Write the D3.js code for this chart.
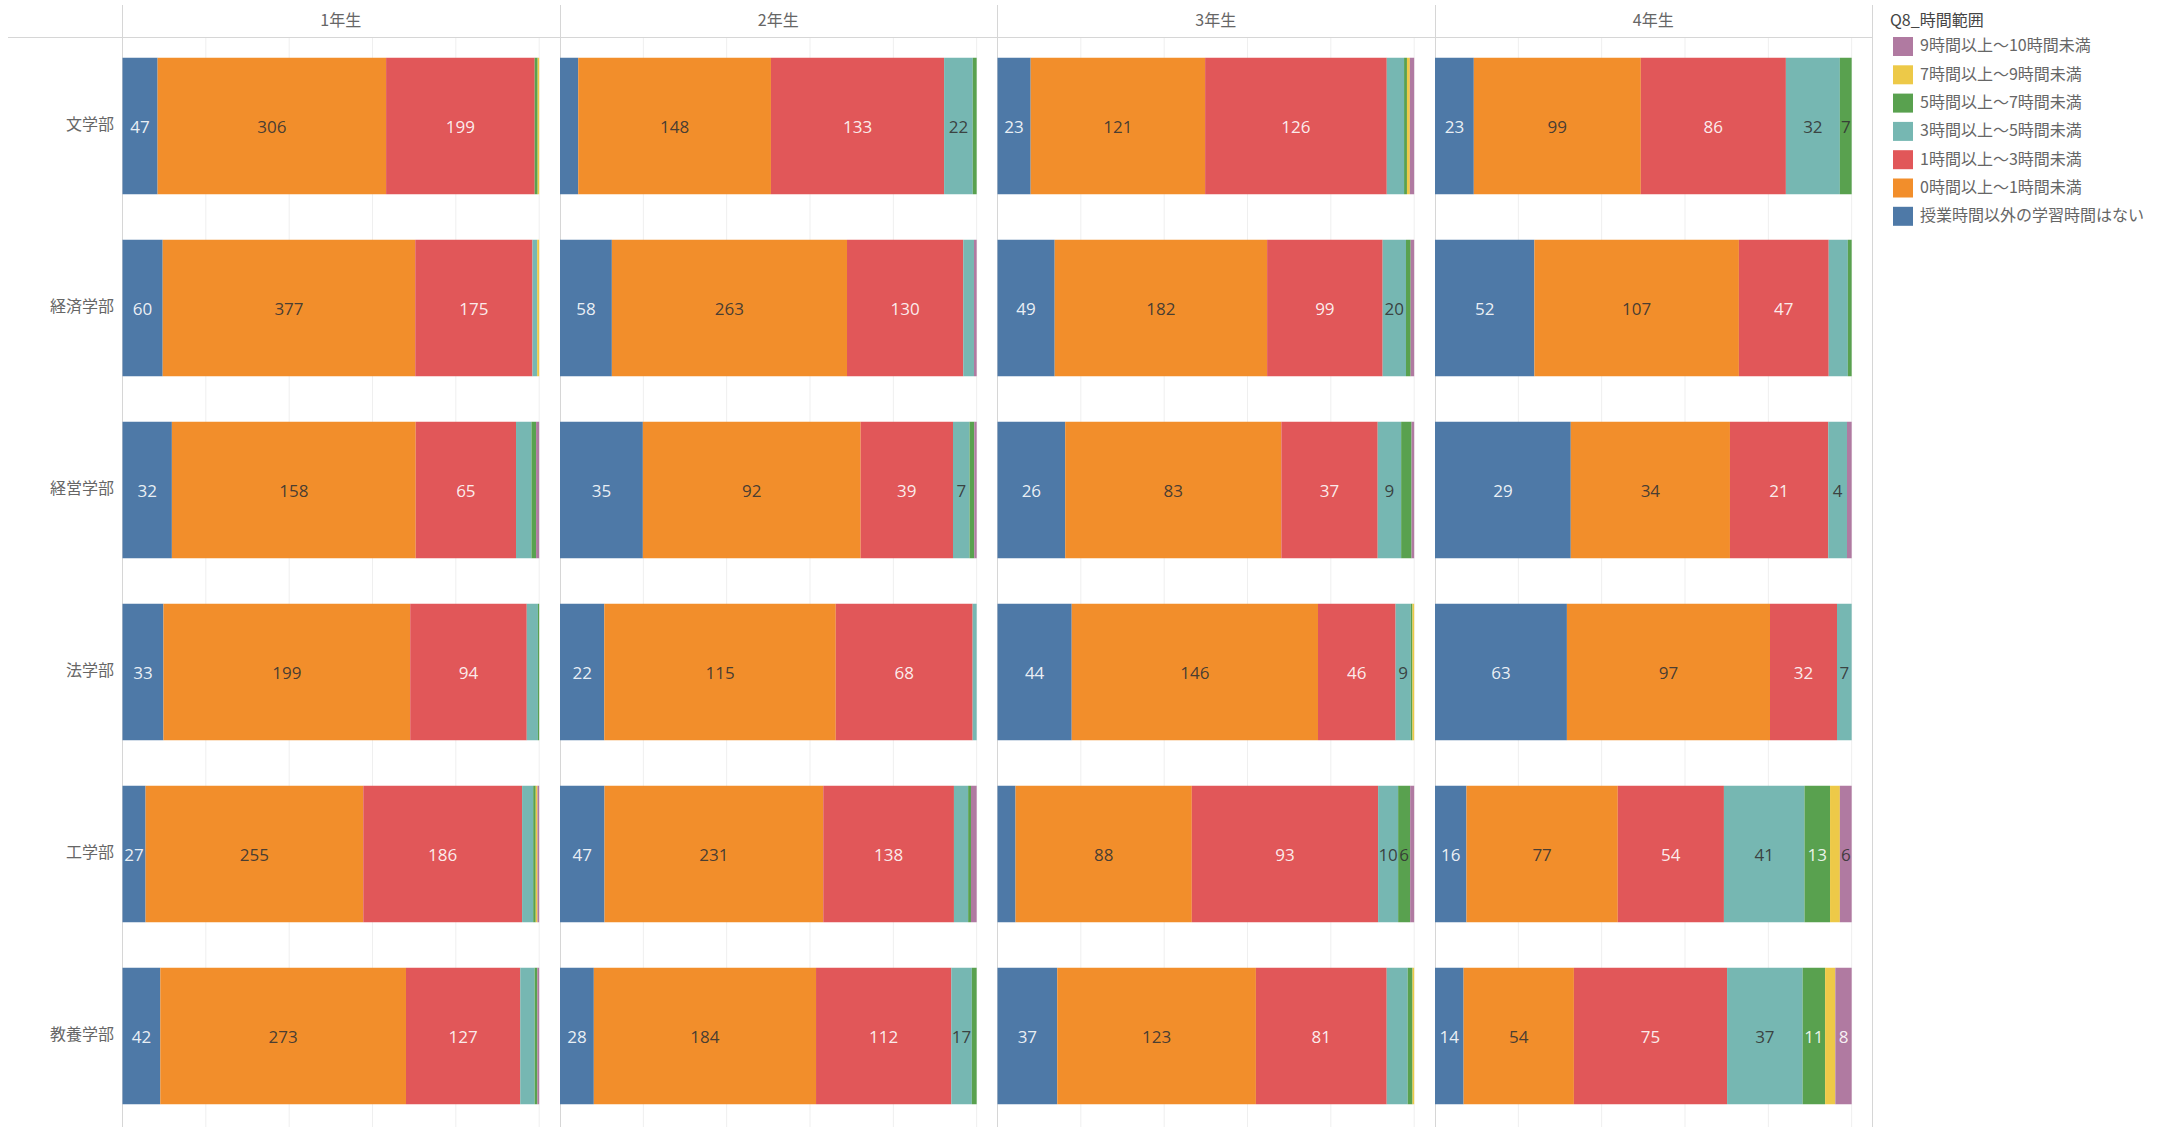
<!DOCTYPE html>
<html><head><meta charset="utf-8">
<script src="https://cdn.jsdelivr.net/npm/d3@7"></script>
<style>
html,body{margin:0;padding:0;background:#fff;}
svg{display:block;}
</style>
</head><body>
<script>
// ---------- data ----------
const timeRanges = [
  "授業時間以外の学習時間はない",
  "0時間以上～1時間未満",
  "1時間以上～3時間未満",
  "3時間以上～5時間未満",
  "5時間以上～7時間未満",
  "7時間以上～9時間未満",
  "9時間以上～10時間未満"
];
const faculties = ["文学部","経済学部","経営学部","法学部","工学部","教養学部"];
const years = ["1年生","2年生","3年生","4年生"];
const legendTitle = "Q8_時間範囲";

// counts per faculty (rows) in timeRanges order
const year1 = [
  [47,306,199,0,4,2,0],
  [60,377,175,7,0,3,0],
  [32,158,65,10,3,0,2],
  [33,199,94,9,1,0,0],
  [27,255,186,13,3,2,2],
  [42,273,127,16,3,0,2]
];
const year2 = [
  [14,148,133,22,3,0,0],
  [58,263,130,12,0,0,3],
  [35,92,39,7,2,0,1],
  [22,115,68,2,0,0,0],
  [47,231,138,15,3,0,6],
  [28,184,112,17,4,0,0]
];
const year3 = [
  [23,121,126,12,2,2,3],
  [49,182,99,20,4,0,3],
  [26,83,37,9,4,0,1],
  [44,146,46,9,1,1,0],
  [9,88,93,10,6,0,2],
  [37,123,81,13,3,1,0]
];
const year4 = [
  [23,99,86,32,7,0,0],
  [52,107,47,10,2,0,0],
  [29,34,21,4,0,0,1],
  [63,97,32,7,0,0,0],
  [16,77,54,41,13,5,6],
  [14,54,75,37,11,5,8]
];
const yearData = [year1, year2, year3, year4];

// segments whose value label the reference leaves out / keeps despite width
const labelHidden = [["1年生","法学部",3],["3年生","工学部",0],["3年生","教養学部",3]];
const labelForced = [["3年生","工学部",3]];

const colors = ["#4e79a7","#f28e2b","#e15759","#76b7b2","#59a14f","#edc948","#b07aa1"];
const whiteText = [true,false,true,false,true,false,true];

// ---------- layout ----------
const W = 2170, H = 1127;
const headerY = 37;
const svg = d3.select("body").append("svg").attr("width", W).attr("height", H);

const panel = d3.scaleBand().domain(years).range([122, 1872]);
const x = d3.scaleLinear().domain([0, 1.05]).range([0, panel.bandwidth()]);
const y = d3.scaleBand().domain(faculties).range([35, 1127]).paddingInner(0.25).paddingOuter(0.125);
const color = d3.scaleOrdinal().domain(d3.range(7)).range(colors);

const labelFont = "'Open Sans', 'Noto Sans CJK JP', sans-serif";
const jpFont = "'Noto Sans CJK JP', 'Noto Sans', sans-serif";

const inList = (list, yr, fac, k) => list.some(e => e[0] === yr && e[1] === fac && e[2] === k);

// gridlines
years.forEach(yr => {
  const g = svg.append("g").attr("transform", `translate(${panel(yr)},0)`);
  g.selectAll("line.grid").data([0.2,0.4,0.6,0.8,1.0]).join("line")
    .attr("x1", d => x(d) + 0.5).attr("x2", d => x(d) + 0.5)
    .attr("y1", headerY).attr("y2", H)
    .attr("stroke", "#efefef").attr("stroke-width", 1);
});

// frame lines
svg.append("line").attr("x1", 8).attr("x2", 1872).attr("y1", headerY + 0.5).attr("y2", headerY + 0.5)
  .attr("stroke", "#d6d6d6");
const seps = years.map(yr => panel(yr)).concat([panel.range()[1]]);
svg.selectAll("line.sep").data(seps).join("line")
  .attr("x1", d => Math.round(d) + 0.5).attr("x2", d => Math.round(d) + 0.5)
  .attr("y1", 5).attr("y2", H).attr("stroke", "#d6d6d6");

// headers
svg.selectAll("text.hdr").data(years).join("text")
  .attr("x", d => panel(d) + panel.bandwidth() / 2).attr("y", 22)
  .attr("text-anchor", "middle").attr("dominant-baseline", "middle")
  .attr("font-family", jpFont).attr("font-size", 16).attr("fill", "#666")
  .text(d => d);

// row labels
svg.selectAll("text.row").data(faculties).join("text")
  .attr("x", 114).attr("y", d => y(d) + y.bandwidth() / 2)
  .attr("text-anchor", "end").attr("dominant-baseline", "middle")
  .attr("font-family", jpFont).attr("font-size", 16).attr("fill", "#666")
  .text(d => d);

// bars
const stack = d3.stack().keys(d3.range(7)).value((d, k) => d[k]).offset(d3.stackOffsetExpand);

years.forEach((yr, yi) => {
  const rows = yearData[yi];
  const series = stack(rows);
  const g = svg.append("g").attr("transform", `translate(${panel(yr) + 0.5},0)`);
  series.forEach(s => {
    const k = s.key;
    s.forEach((seg, fi) => {
      const v = rows[fi][k];
      if (!v) return;
      const x0 = x(seg[0]), x1 = x(seg[1]);
      const fac = faculties[fi];
      g.append("rect")
        .attr("x", x0).attr("width", Math.max(0, x1 - x0))
        .attr("y", y(fac)).attr("height", y.bandwidth())
        .attr("fill", color(k));
      const w = x1 - x0;
      const t = g.append("text")
        .attr("x", (x0 + x1) / 2).attr("y", y(fac) + y.bandwidth() / 2)
        .attr("text-anchor", "middle").attr("dominant-baseline", "central")
        .attr("font-family", labelFont).attr("font-size", 17)
        .text(v);
      const tw = t.node().getComputedTextLength();
      const forced = inList(labelForced, yr, fac, k);
      if ((!forced && tw + 1 > w) || inList(labelHidden, yr, fac, k)) { t.remove(); return; }
      const white = whiteText[k] && (k < 3 || w >= tw + 2.5);
      t.attr("fill", white ? "#ffffff" : "#333333").attr("fill-opacity", 0.9);
    });
  });
});

// legend
const lg = svg.append("g").attr("transform", "translate(1888,0)");
lg.append("text").attr("x", 2).attr("y", 22).attr("dominant-baseline", "middle")
  .attr("font-family", jpFont).attr("font-size", 16).attr("fill", "#444").text(legendTitle);
const legendOrder = d3.range(7).reverse();
const items = lg.selectAll("g.item").data(legendOrder).join("g")
  .attr("transform", (d, i) => `translate(5,${37 + i * 28.3})`);
items.append("rect").attr("width", 20).attr("height", 19).attr("fill", d => color(d));
items.append("text").attr("x", 27).attr("y", 10).attr("dominant-baseline", "middle")
  .attr("font-family", jpFont).attr("font-size", 16).attr("fill", "#666")
  .text(d => timeRanges[d]);
</script>
</body></html>
